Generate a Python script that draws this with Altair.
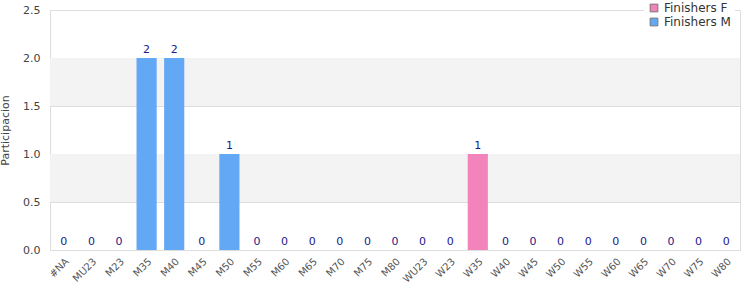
import altair as alt
import pandas as pd

categories = ["#NA", "MU23", "M23", "M35", "M40", "M45", "M50", "M55", "M60", "M65",
              "M70", "M75", "M80", "WU23", "W23", "W35", "W40", "W45", "W50", "W55",
              "W60", "W65", "W70", "W75", "W80"]
values = [0, 0, 0, 2, 2, 0, 1, 0, 0, 0, 0, 0, 0, 0, 0, 1, 0, 0, 0, 0, 0, 0, 0, 0, 0]
series = ["Finishers M"] * 13 + ["Finishers F"] * 12
band_lo = [0.5, 1.5]
band_hi = [1.0, 2.0]

df = pd.DataFrame({"cat": categories, "val": values, "series": series})
bands = pd.DataFrame({"lo": band_lo, "hi": band_hi})

yscale = alt.Scale(domain=[0, 2.5])

band_layer = alt.Chart(bands).mark_rect(color="#f3f3f3").encode(
    y=alt.Y("lo:Q", scale=yscale),
    y2="hi:Q",
)

x_enc = alt.X("cat:N", sort=categories, title=None,
              scale=alt.Scale(paddingInner=0.27, paddingOuter=0.135),
              axis=alt.Axis(labelAngle=-45, labelFontSize=10, labelColor="#555",
                            ticks=False, domain=False, labelPadding=6,
                            labelFont="DejaVu Sans"))

bars = alt.Chart(df).mark_bar().encode(
    x=x_enc,
    y=alt.Y("val:Q", scale=yscale, title="Participacion",
            axis=alt.Axis(values=[0, 0.5, 1.0, 1.5, 2.0, 2.5], format=".1f",
                          labelFontSize=11, labelColor="#444", ticks=False, domain=False,
                          labelPadding=10,
                          gridColor="#dddddd", titleFontSize=11, titleColor="#444",
                          titleFontWeight="normal", titlePadding=12,
                          labelFont="DejaVu Sans", titleFont="DejaVu Sans")),
    color=alt.Color("series:N",
                    scale=alt.Scale(domain=["Finishers F", "Finishers M"],
                                    range=["#f283bb", "#62a8f4"]),
                    legend=alt.Legend(title=None, orient="none", legendX=594, legendY=-12,
                                      symbolType="square", symbolSize=60,
                                      symbolStrokeColor="#777", symbolStrokeWidth=1,
                                      labelFontSize=12, labelColor="#333",
                                      labelFont="DejaVu Sans", fillColor="white",
                                      padding=4, rowPadding=2)),
)

labels = alt.Chart(df).mark_text(dy=-8, fontSize=11, color="#1a1a8a",
                                 font="DejaVu Sans").encode(
    x=alt.X("cat:N", sort=categories),
    y=alt.Y("val:Q", scale=yscale),
    text="val:Q",
)

chart = alt.layer(band_layer, bars, labels).properties(
    width=690, height=240,
    autosize=alt.AutoSizeParams(type="none"),
    padding={"left": 50, "top": 10, "right": 10, "bottom": 50},
).configure_view(stroke="#dddddd")

chart.save("out.html", embed_options={"renderer": "svg", "actions": False})
